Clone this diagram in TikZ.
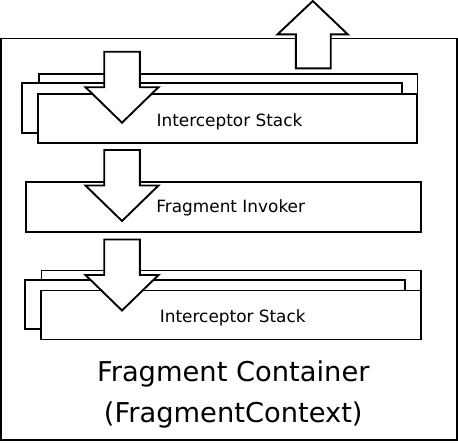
\documentclass[tikz,border=0pt]{standalone}
\usepackage{fontspec}
\setmainfont{DejaVu Sans}
\begin{document}
\begin{tikzpicture}[x=1pt,y=-1pt,
  box/.style={draw=black, fill=white, line width=1.9pt, rectangle, inner sep=0pt, outer sep=0pt},
  smalltext/.style={font=\fontsize{16.9}{20}\selectfont, inner sep=0pt},
  bigtext/.style={font=\fontsize{27.3}{41.5}\selectfont, align=center, inner sep=0pt},
  arrowshape/.style={draw=black, fill=white, line width=1.9pt, line join=miter},
  downarr/.pic={\draw[arrowshape] (-17.8,0) -- (17.8,0) -- (17.8,35.5) -- (36.5,35.5) -- (0,71) -- (-36.5,35.5) -- (-17.8,35.5) -- cycle;}
]
\useasboundingbox (0,0) rectangle (458,442);
% outer container
\node[box, minimum width=455.7pt, minimum height=401.5pt] (container) at (228.85,239.25) {};
\node[bigtext] (containerlabel) at (233.3,394.5) {Fragment Container\\(FragmentContext)};
% top interceptor stack
\node[box, minimum width=378.5pt, minimum height=65pt] (back1) at (228.25,106.5) {};
\node[box, minimum width=379.4pt, minimum height=49.4pt] (mid1) at (212,108) {};
\node[box, minimum width=379pt, minimum height=49pt] (front1) at (227.2,118.2) {};
\node[smalltext] (front1text) at (229.5,121.5) {Interceptor Stack};
% invoker
\node[box, minimum width=395.3pt, minimum height=50pt] (invoker) at (223.35,206.7) {};
\node[smalltext] (invokertext) at (230.7,207.4) {Fragment Invoker};
% bottom interceptor stack
\node[box, minimum width=379.5pt, minimum height=59.5pt] (back3) at (231.25,300.25) {};
\node[box, minimum width=379.7pt, minimum height=49pt] (mid3) at (215.15,304.2) {};
\node[box, minimum width=380pt, minimum height=49pt] (front3) at (230.7,315) {};
\node[smalltext] (front3text) at (232.8,317.6) {Interceptor Stack};
% down arrows
\pic at (122,51.7) {downarr};
\pic at (122,150) {downarr};
\pic at (122,239.5) {downarr};
% up arrow
\draw[arrowshape] (295.9,68.3) -- (330.7,68.3) -- (330.7,34.3) -- (347.7,34.3) -- (312.8,1) -- (277.6,34.3) -- (295.9,34.3) -- cycle;
\end{tikzpicture}
\end{document}
